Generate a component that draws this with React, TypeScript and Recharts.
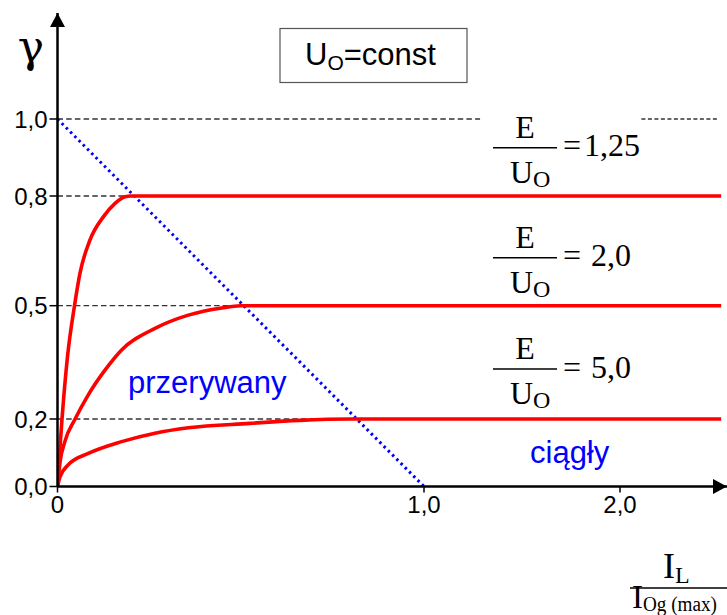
import React from "react";
import {
  LineChart,
  Line,
  XAxis,
  YAxis,
  ReferenceLine,
  ReferenceDot,
} from "recharts";

// duty cycle vs. normalised load current, one curve per E/Uo ratio
const ratioLabels = ["1,25", "2,0", "5,0"];

const curveX125 = [0, 0.0049, 0.0123, 0.0273, 0.0464, 0.0614, 0.0887, 0.125, 0.157, 0.184, 0.2, 2.52];
const curveY125 = [0, 0.088, 0.2, 0.365, 0.5, 0.589, 0.68, 0.743, 0.78, 0.798, 0.8, 0.8];

const curveX20 = [0, 0.007, 0.02, 0.048, 0.084, 0.13, 0.175, 0.266, 0.357, 0.448, 0.5, 2.52];
const curveY20 = [0, 0.073, 0.133, 0.2, 0.264, 0.33, 0.383, 0.44, 0.475, 0.494, 0.5, 0.5];

const curveX50 = [0, 0.007, 0.029, 0.084, 0.175, 0.266, 0.357, 0.525, 0.66, 0.8, 2.52];
const curveY50 = [0, 0.029, 0.064, 0.098, 0.133, 0.158, 0.174, 0.187, 0.196, 0.2, 0.2];

// boundary between discontinuous and continuous conduction
const boundaryX = [0, 1];
const boundaryY = [1, 0];

// knee of each curve (where the dashed guide stops)
const kneeX = [0.2, 0.5, 0.8];
const kneeY = [0.8, 0.5, 0.2];

const xTicks = [0, 1, 2];
const xTickLabels = ["0", "1,0", "2,0"];
const yTicks = [0, 0.2, 0.5, 0.8, 1.0];
const yTickLabels = ["0,0", "0,2", "0,5", "0,8", "1,0"];

const X_MAX = 2.55;
const Y_MAX = 1.28;

const toPoints = (xs: number[], ys: number[]) => xs.map((x, i) => ({ x, y: ys[i] }));

const series = [
  toPoints(curveX125, curveY125),
  toPoints(curveX20, curveY20),
  toPoints(curveX50, curveY50),
];
const boundary = toPoints(boundaryX, boundaryY);

// the axes of this sketch are not evenly spaced, so the scale is piecewise linear
const knotScale = (knots: number[], span: number[]): any => {
  let dom = [knots[0], knots[knots.length - 1]];
  let rng = [0, 1];
  const total = span[span.length - 1];
  const toFrac = (v: number) => {
    let i = 0;
    while (i < knots.length - 2 && v > knots[i + 1]) i++;
    const t = (v - knots[i]) / (knots[i + 1] - knots[i]);
    return (span[i] + t * (span[i + 1] - span[i])) / total;
  };
  const scale: any = (v: number) => rng[0] + toFrac(v) * (rng[1] - rng[0]);
  scale.domain = (d?: number[]) => {
    if (!d) return dom.slice();
    dom = d.slice();
    return scale;
  };
  scale.range = (r?: number[]) => {
    if (!r) return rng.slice();
    rng = r.slice();
    return scale;
  };
  scale.copy = () => knotScale(knots, span).domain(dom).range(rng);
  scale.ticks = () => knots.slice(0, -1);
  scale.tickFormat = () => (v: number) => String(v);
  scale.invert = (px: number) => {
    let lo = knots[0];
    let hi = knots[knots.length - 1];
    const up = rng[1] > rng[0];
    for (let k = 0; k < 40; k++) {
      const mid = (lo + hi) / 2;
      if (scale(mid) < px === up) lo = mid;
      else hi = mid;
    }
    return (lo + hi) / 2;
  };
  return scale;
};

const xScale = knotScale([0, 1, 2, X_MAX], [0, 366.5, 562.5, 669.5]);
const yScale = knotScale([0, 0.2, 0.5, 0.8, 1.0, Y_MAX], [0, 67.5, 180.8, 290.5, 367.5, 473.5]);

const tickFont = "'Liberation Sans', Arial, sans-serif";
const serif = "'Liberation Serif', 'Times New Roman', serif";

const YTick = ({ x, y, payload }: any) => {
  const i = yTicks.indexOf(payload.value);
  return (
    <text
      x={x}
      y={y + 8.5}
      textAnchor="end"
      fontFamily={tickFont}
      fontSize={24}
      fill="#000"
    >
      {yTickLabels[i]}
    </text>
  );
};

const XTick = ({ x, y, payload }: any) => {
  const i = xTicks.indexOf(payload.value);
  return (
    <text
      x={x}
      y={y + 18}
      textAnchor="middle"
      fontFamily={tickFont}
      fontSize={24}
      fill="#000"
    >
      {xTickLabels[i]}
    </text>
  );
};

const ArrowUp = ({ cx, cy }: any) => (
  <path d={`M${cx},${cy} L${cx - 7.5},${cy + 14} L${cx + 7.5},${cy + 14} Z`} fill="#000" />
);

const ArrowRight = ({ cx, cy }: any) => (
  <path d={`M${cx},${cy} L${cx - 14},${cy - 7.5} L${cx - 14},${cy + 7.5} Z`} fill="#000" />
);

// E/Uo fraction block, placed level with its curve
const fractionBars = [147.7, 257.7, 369];

const Fraction = ({ bar, value }: { bar: number; value: string }) => (
  <g fontFamily={serif} fill="#000">
    <text x={525} y={bar - 10} fontSize={32} textAnchor="middle">
      E
    </text>
    <line x1={493} x2={557} y1={bar} y2={bar} stroke="#000" strokeWidth={1.5} />
    <text x={510} y={bar + 35} fontSize={32}>
      U
      <tspan fontSize={24} dy={4}>
        O
      </tspan>
    </text>
    <text x={563} y={bar + 8.5} fontSize={32}>
      =
    </text>
    <text x={value.length > 3 ? 584 : 591} y={bar + 8.5} fontSize={32}>
      {value}
    </text>
  </g>
);

const Annotations = () => (
  <svg
    width={727}
    height={615}
    style={{ position: "absolute", left: 0, top: 0, pointerEvents: "none" }}
  >
    <text x={31} y={62} fontFamily="'DejaVu Serif', serif" fontSize={44} textAnchor="middle" fill="#000">
      γ
    </text>

    <rect x={280} y={28.5} width={187} height={54} fill="#fff" stroke="#555" strokeWidth={1.2} />
    <text x={305} y={65} fontFamily={tickFont} fontSize={31} fill="#000">
      U
      <tspan fontSize={21} dy={5}>
        O
      </tspan>
      <tspan dy={-5}>=const</tspan>
    </text>

    {fractionBars.map((bar, i) => (
      <Fraction key={i} bar={bar} value={ratioLabels[i]} />
    ))}

    <text x={128} y={393} fontFamily={tickFont} fontSize={31} fill="#0000ff">
      przerywany
    </text>
    <text x={530} y={463} fontFamily={tickFont} fontSize={31} fill="#0000ff">
      ciągły
    </text>

    {/* x axis title: I_L / I_Og(max) */}
    <g fontFamily={serif} fill="#000">
      <text x={663} y={578} fontSize={36}>
        I
        <tspan fontSize={24} dy={5}>
          L
        </tspan>
      </text>
      <line x1={630} x2={727} y1={588} y2={588} stroke="#000" strokeWidth={1.5} />
      <text x={632} y={608} fontSize={33}>
        I
        <tspan fontSize={20} dy={3} textLength={74} lengthAdjust="spacingAndGlyphs">
          Og (max)
        </tspan>
      </text>
    </g>
  </svg>
);

export default function App() {
  return (
    <div style={{ position: "absolute", left: 0, top: 0, width: 727, height: 615, background: "#fff" }}>
      <LineChart
        width={727}
        height={615}
        margin={{ top: 13, right: 0, bottom: 98.5, left: 0 }}
      >
        <XAxis
          type="number"
          dataKey="x"
          scale={xScale}
          domain={[0, X_MAX]}
          allowDataOverflow
          ticks={xTicks}
          tick={<XTick />}
          tickSize={6}
          tickMargin={2}
          tickLine={{ stroke: "#000", strokeWidth: 1.5 }}
          axisLine={{ stroke: "#000", strokeWidth: 2.5 }}
          height={30}
        />
        <YAxis
          type="number"
          dataKey="y"
          scale={yScale}
          domain={[0, Y_MAX]}
          allowDataOverflow
          ticks={yTicks}
          tick={<YTick />}
          tickSize={8}
          tickMargin={2}
          tickLine={{ stroke: "#000", strokeWidth: 1.5 }}
          axisLine={{ stroke: "#000", strokeWidth: 2.5 }}
          width={57.5}
        />

        {/* dashed guides from the axis to each knee, plus the 1,0 level */}
        {kneeX.map((kx, i) => (
          <ReferenceLine
            key={i}
            segment={[
              { x: 0, y: kneeY[i] },
              { x: kx, y: kneeY[i] },
            ]}
            stroke="#333"
            strokeWidth={1.3}
            strokeDasharray="5.5 3.2"
          />
        ))}
        <ReferenceLine
          segment={[
            { x: 0, y: 1 },
            { x: 1.286, y: 1 },
          ]}
          stroke="#333"
          strokeWidth={1.3}
          strokeDasharray="5.5 3.2"
        />
        <ReferenceLine
          segment={[
            { x: 2.11, y: 1 },
            { x: 2.51, y: 1 },
          ]}
          stroke="#333"
          strokeWidth={1.3}
          strokeDasharray="4 2.5"
        />

        <Line
          data={boundary}
          dataKey="y"
          type="linear"
          stroke="#0000ff"
          strokeWidth={3}
          strokeDasharray="2.5 3.5"
          dot={false}
          isAnimationActive={false}
        />
        {series.map((pts, i) => (
          <Line
            key={i}
            data={pts}
            dataKey="y"
            type="monotone"
            stroke="#ff0000"
            strokeWidth={3.6}
            dot={false}
            isAnimationActive={false}
          />
        ))}

        <ReferenceDot x={0} y={Y_MAX} r={0} shape={<ArrowUp />} ifOverflow="visible" />
        <ReferenceDot x={X_MAX} y={0} r={0} shape={<ArrowRight />} ifOverflow="visible" />
      </LineChart>
      <Annotations />
    </div>
  );
}
